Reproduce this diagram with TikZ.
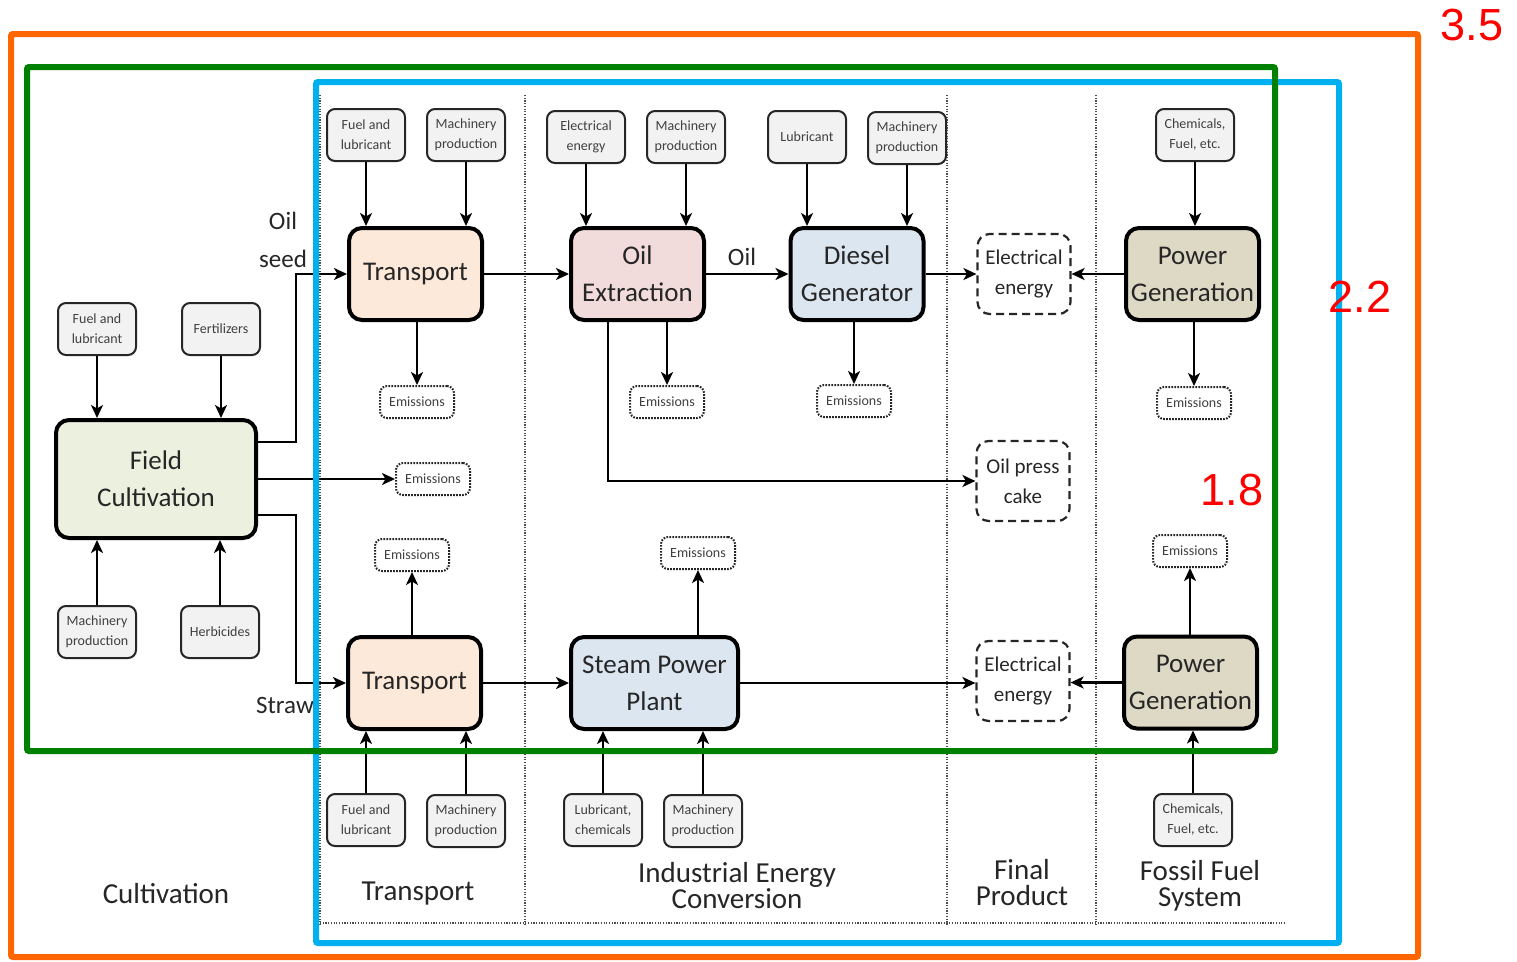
\documentclass[tikz,border=0pt]{standalone}
\usepackage{fontspec}
\setmainfont{Carlito}
\newfontfamily\numfont{Liberation Sans}
\usetikzlibrary{arrows.meta}
\definecolor{cfield}{HTML}{EBF1DE}
\definecolor{cpeach}{HTML}{FDE9D9}
\definecolor{cpink}{HTML}{F2DCDB}
\definecolor{cblue}{HTML}{DCE6F1}
\definecolor{ckhaki}{HTML}{DDD9C4}
\definecolor{cgrey}{HTML}{F2F2F2}
\definecolor{corange}{HTML}{FF6600}
\definecolor{cgreen}{HTML}{008000}
\definecolor{cframe}{HTML}{00B0F0}
\definecolor{ctext}{HTML}{262626}
\begin{document}
\begin{tikzpicture}[x=1pt,y=-1pt,
  bigbox/.style={draw=black, line width=4pt, rounded corners=13pt, inner sep=0pt,
    minimum width=133pt, minimum height=92pt, align=center, text=ctext,
    font=\fontsize{27}{37}\selectfont},
  inbox/.style={draw=black!85, line width=2pt, fill=cgrey, rounded corners=8pt, inner sep=0pt,
    minimum width=78pt, minimum height=52pt, align=center, text=black!75,
    font=\fontsize{14}{20}\selectfont},
  embox/.style={draw=black!85, line width=2pt, dash pattern=on 1.6pt off 1.4pt,
    rounded corners=7pt, inner sep=0pt, minimum width=74pt, minimum height=32pt,
    text=black!75, font=\fontsize{14}{16}\selectfont},
  dbox/.style={draw=black!85, line width=2.2pt, dash pattern=on 8pt off 5pt,
    rounded corners=12pt, inner sep=0pt, minimum width=93pt, minimum height=80pt,
    align=center, text=ctext, font=\fontsize{21}{30}\selectfont},
  arr/.style={draw=black, line width=2.2pt, -{Stealth[length=13pt,width=12pt,inset=3.5pt]}},
  secline/.style={draw=black!70, line width=1.3pt, dash pattern=on 1.2pt off 1.5pt},
  seclabel/.style={align=center, text=ctext, font=\fontsize{29}{26}\selectfont},
  flowlabel/.style={text=ctext, font=\fontsize{25}{38}\selectfont, align=center},
  rednum/.style={text=red, font=\numfont\fontsize{45}{45}\selectfont},
  frame/.style={line width=6pt, rounded corners=2pt}
]
\useasboundingbox (0,0) rectangle (1517,961);

% section separators
\draw[secline] (320,95) -- (320,925);
\draw[secline] (525,95) -- (525,925);
\draw[secline] (947,95) -- (947,925);
\draw[secline] (1096,95) -- (1096,925);
\draw[secline] (320,923) -- (1285,923);

% main process boxes
\node[bigbox, fill=cfield, minimum width=200pt, minimum height=118pt] (fc) at (156,479) {Field\\Cultivation};
\node[bigbox, fill=cpeach] (tr1) at (415.5,274) {Transport};
\node[bigbox, fill=cpink] (oe) at (637.5,274) {Oil\\Extraction};
\node[bigbox, fill=cblue] (dg) at (857,274) {Diesel\\Generator};
\node[bigbox, fill=ckhaki] (pg1) at (1192.5,274) {Power\\Generation};
\node[bigbox, fill=cpeach] (tr2) at (414.5,683) {Transport};
\node[bigbox, fill=cblue, minimum width=167pt] (sp) at (654.5,683) {Steam Power\\Plant};
\node[bigbox, fill=ckhaki] (pg2) at (1190.5,682.5) {Power\\Generation};

% input boxes
\node[inbox] (i1) at (366,135) {Fuel and\\lubricant};
\node[inbox] (i2) at (466,135) {Machinery\\production};
\node[inbox] (i3) at (586,137) {Electrical\\energy};
\node[inbox] (i4) at (686,137) {Machinery\\production};
\node[inbox] (i5) at (807,137) {Lubricant};
\node[inbox] (i6) at (907,138) {Machinery\\production};
\node[inbox] (i7) at (1195,135) {Chemicals,\\Fuel, etc.};
\node[inbox] (f1) at (97,329) {Fuel and\\lubricant};
\node[inbox] (f2) at (221,329) {Fertilizers};
\node[inbox] (f3) at (97,632) {Machinery\\production};
\node[inbox] (f4) at (220,632) {Herbicides};
\node[inbox] (b1) at (366,820) {Fuel and\\lubricant};
\node[inbox] (b2) at (466,821) {Machinery\\production};
\node[inbox] (b3) at (603,820) {Lubricant,\\chemicals};
\node[inbox] (b4) at (703,821) {Machinery\\production};
\node[inbox] (b5) at (1193,820) {Chemicals,\\Fuel, etc.};

% emissions
\node[embox] (e1) at (417,402) {Emissions};
\node[embox] (e2) at (667,402) {Emissions};
\node[embox] (e3) at (854,401) {Emissions};
\node[embox] (e4) at (1194,403) {Emissions};
\node[embox] (e5) at (433,479) {Emissions};
\node[embox] (e6) at (412,555) {Emissions};
\node[embox] (e7) at (698,553) {Emissions};
\node[embox] (e8) at (1190,551) {Emissions};

% products
\node[dbox] (d1) at (1024,274) {Electrical\\energy};
\node[dbox] (d2) at (1023,481) {Oil press\\cake};
\node[dbox] (d3) at (1023,681) {Electrical\\energy};

% inputs to processes
\foreach \a/\b in {i1/tr1,i2/tr1,i3/oe,i4/oe,i5/dg,i6/dg,i7/pg1,f1/fc,f2/fc}
  \draw[arr] (\a.south) -- (\a.south |- \b.north);
\foreach \a/\b in {b1/tr2,b2/tr2,b3/sp,b4/sp,b5/pg2,f3/fc,f4/fc}
  \draw[arr] (\a.north) -- (\a.north |- \b.south);

% emissions
\draw[arr] (e1.north |- tr1.south) -- (e1.north);
\draw[arr] (e2.north |- oe.south) -- (e2.north);
\draw[arr] (e3.north |- dg.south) -- (e3.north);
\draw[arr] (e4.north |- pg1.south) -- (e4.north);
\draw[arr] (e6.south |- tr2.north) -- (e6.south);
\draw[arr] (e7.south |- sp.north) -- (e7.south);
\draw[arr] (e8.south |- pg2.north) -- (e8.south);
\draw[arr] (fc.east) -- (fc.east -| e5.west);

% main flows
\draw[arr] ([yshift=37pt]fc.east) -- ++(38,0) |- (tr1.west);
\draw[arr] ([yshift=-36pt]fc.east) -- ++(38,0) |- (tr2.west);
\draw[arr] (tr1.east) -- (oe.west);
\draw[arr] (oe.east) -- (dg.west);
\draw[arr] (dg.east) -- (d1.west);
\draw[arr] (pg1.west) -- (d1.east);
\draw[arr] ([xshift=-29.5pt]oe.south) |- (d2.west);
\draw[arr] (tr2.east) -- (sp.west);
\draw[arr] (sp.east) -- (sp.east -| d3.west);
\draw[arr] (pg2.west) -- (pg2.west -| d3.east);

% flow labels
\node[flowlabel] (lo1) at (283,221) {Oil};
\node[flowlabel] (lo2) at (283,259) {seed};
\node[flowlabel] (lst) at (285,705) {Straw};
\node[flowlabel] (loil) at (742,257) {Oil};

% section labels
\node[seclabel] (s1) at (166,894) {Cultivation};
\node[seclabel] (s2) at (418,894) {Transport};
\node[seclabel] (s3) at (737,886) {Industrial Energy\\Conversion};
\node[seclabel] (s4) at (1022,883) {Final\\Product};
\node[seclabel] (s5) at (1200,886) {Fossil Fuel\\System};

% system boundaries
\draw[frame, draw=corange] (11,34) rectangle (1418,957);
\draw[frame, draw=cframe] (316,82) rectangle (1339,943);
\draw[frame, draw=cgreen] (27,67) rectangle (1275,751);

\node[rednum] (n35) at (1472,25) {3.5};
\node[rednum] (n22) at (1360,297) {2.2};
\node[rednum] (n18) at (1232,490) {1.8};
\end{tikzpicture}
\end{document}
